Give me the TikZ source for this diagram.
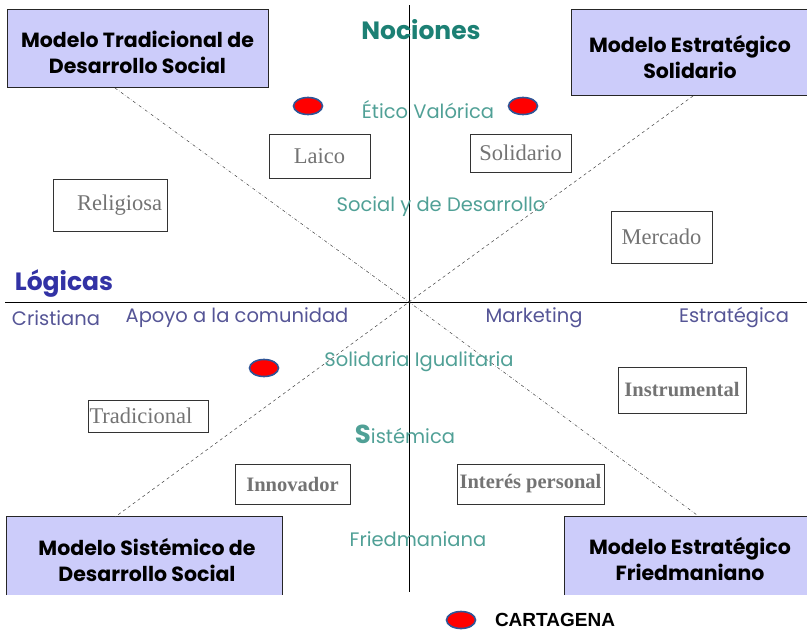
\documentclass[tikz,border=0pt]{standalone}
\usepackage{fontspec}
\setmainfont{Liberation Serif}
\newfontfamily\gothic{Poppins}
\newfontfamily\arialfont{Liberation Sans}
\usetikzlibrary{shapes.geometric}
\definecolor{lavanda}{RGB}{204,204,250}
\definecolor{tealoscuro}{RGB}{28,128,116}
\definecolor{tealclaro}{RGB}{80,160,150}
\definecolor{azullogica}{RGB}{50,50,165}
\definecolor{azulgris}{RGB}{85,85,150}
\definecolor{bordeazul}{RGB}{47,85,151}

\begin{document}
\begin{tikzpicture}[x=1pt,y=-1pt,
	modelo/.style={fill=lavanda, align=center, inner sep=0pt, font=\gothic\bfseries\fontsize{20.5}{26}\selectfont},
	caja/.style={draw=black!80, line width=0.7pt, inner sep=0pt, text=black!55, font=\fontsize{22.5}{24}\selectfont},
	cajanegrita/.style={caja, font=\bfseries\fontsize{20.5}{24}\selectfont},
	nocion/.style={text=tealclaro, inner sep=0pt, font=\gothic\fontsize{19.5}{22}\selectfont},
	logica/.style={text=azulgris, inner sep=0pt, font=\gothic\fontsize{19.5}{22}\selectfont},
	punto/.style={ellipse, fill=red, draw=bordeazul, line width=1.6pt, minimum width=29pt, minimum height=17pt, inner sep=0pt}]

	\useasboundingbox (0,0) rectangle (807,630);

	\coordinate (centro) at (409,302);
	\coordinate (ejearriba) at (409,5);
	\coordinate (ejeabajo) at (409,592);
	\coordinate (ejeizq) at (5,302);
	\coordinate (ejeder) at (807,302);

	\draw[line width=0.7pt] (ejearriba) -- (ejeabajo);
	\draw[line width=0.7pt] (ejeizq) -- (ejeder);

	\node[modelo, draw=black!85, line width=0.8pt, minimum width=261pt, minimum height=78pt] (tradicional) at (137.5,48) {};
	\node[modelo] at (137.5,52) {Modelo Tradicional de\\Desarrollo Social};

	\node[modelo, draw=black!85, line width=0.8pt, minimum width=243pt, minimum height=86pt] (solidario) at (692.5,52) {};
	\node[modelo] at (690,57) {Modelo Estratégico\\Solidario};

	\node[modelo, minimum width=275pt, minimum height=78pt] (sistemico) at (144.5,556) {};
	\draw[line width=0.8pt, black!85] (sistemico.south west) |- (sistemico.north east) -- (sistemico.south east);
	\node[modelo] at (147,560) {Modelo Sistémico de\\Desarrollo Social};

	\node[modelo, minimum width=247pt, minimum height=78pt] (friedman) at (688.5,556) {};
	\draw[line width=0.8pt, black!85] (friedman.south west) |- (friedman.north east);
	\node[modelo] at (690,559) {Modelo Estratégico\\Friedmaniano};

	\coordinate (diag1) at (115,88);
	\coordinate (diag2) at (697,515);
	\coordinate (diag3) at (693,96);
	\coordinate (diag4) at (115,517);

	\draw[dash dot, line width=0.5pt, black!75] (diag1) -- (centro) -- (diag2);
	\draw[dashed, line width=0.5pt, black!75] (diag3) -- (centro) -- (diag4);

	\node[text=tealoscuro, inner sep=0pt, font=\gothic\bfseries\fontsize{25}{28}\selectfont] (nociones) at (421,30) {Nociones};
	\node[text=azullogica, inner sep=0pt, font=\gothic\bfseries\fontsize{25}{28}\selectfont] (logicas) at (64,284) {Lógicas};

	\node[nocion] (etico) at (428,110) {Ético Valórica};
	\node[nocion] (social) at (441,207) {Social y de Desarrollo};
	\node[nocion] (igualitaria) at (419,362) {Solidaria Igualitaria};
	\node[nocion] (sistemica) at (405,434) {{\fontsize{26}{26}\selectfont\bfseries S}istémica};
	\node[nocion] (friedmaniana) at (418,539) {Friedmaniana};

	\node[logica] (cristiana) at (56,318) {Cristiana};
	\node[logica] (apoyo) at (237,318) {Apoyo a la comunidad};
	\node[logica] (marketing) at (534,318) {Marketing};
	\node[logica] (estrategica) at (734,318) {Estratégica};

	\node[caja, minimum width=101pt, minimum height=44pt] (laico) at (319.5,156) {Laico};
	\node[caja, minimum width=101pt, minimum height=38pt] (solidariocaja) at (520.5,153) {Solidario};
	\node[caja, minimum width=114pt, minimum height=52pt, text width=104pt, align=right] (religiosa) at (110,205) {Religiosa};
	\node[caja, minimum width=101pt, minimum height=52pt] (mercado) at (661.5,237) {Mercado};
	\node[caja, minimum width=120pt, minimum height=32pt, text width=117pt, align=left] (tradicionalcaja) at (148,416) {Tradicional};
	\node[cajanegrita, minimum width=128pt, minimum height=46pt] (instrumental) at (682,390) {Instrumental};
	\node[cajanegrita, minimum width=115pt, minimum height=40pt] (innovador) at (292.5,484) {Innovador};
	\node[cajanegrita, minimum width=147pt, minimum height=40pt] (interes) at (530.5,484) {Interés personal};

	\node[punto] (punto1) at (308,106) {};
	\node[punto] (punto2) at (523,106) {};
	\node[punto] (punto3) at (264,368) {};
	\node[punto] (leyenda) at (461,620) {};
	\node[inner sep=0pt, font=\arialfont\bfseries\fontsize{19}{20}\selectfont] (cartagena) at (555,620) {CARTAGENA};
\end{tikzpicture}
\end{document}
